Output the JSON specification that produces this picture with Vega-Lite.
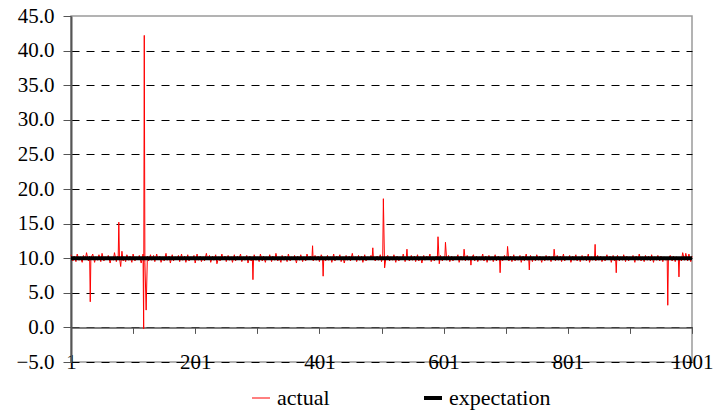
{
  "$schema": "https://vega.github.io/schema/vega-lite/v6.json",
  "width": 621,
  "height": 346,
  "autosize": "none",
  "padding": {"left": 71, "top": 16, "right": 25, "bottom": 53},
  "background": "white",
  "config": {
    "view": {"stroke": "#9a9a9a", "strokeWidth": 1.5},
    "style": {"guide-label": {"font": "Liberation Serif"}}
  },
  "encoding": {
    "x": {
      "field": "x",
      "type": "quantitative",
      "scale": {"domain": [1, 1001], "nice": false, "zero": false},
      "axis": {
        "title": null,
        "grid": false,
        "values": [1, 101, 201, 301, 401, 501, 601, 701, 801, 901, 1001],
        "format": "d",
        "labelExpr": "(datum.value - 1) % 200 == 0 ? datum.label : ''",
        "labelFlush": false,
        "labelOverlap": false,
        "labelFont": "Liberation Serif",
        "labelFontSize": 21,
        "labelColor": "black",
        "offset": -34.6,
        "tickSize": 6,
        "tickColor": "#555",
        "domainColor": "#555",
        "domainWidth": 1.5,
        "labelBaseline": "middle",
        "labelPadding": 28.6,
        "encode": {"labels": {"update": {"font": {"value": "Liberation Serif"}}}}
      }
    },
    "y": {
      "field": "y",
      "type": "quantitative",
      "scale": {"domain": [-5, 45], "nice": false, "zero": false},
      "axis": {
        "title": null,
        "values": [-5, 0, 5, 10, 15, 20, 25, 30, 35, 40, 45],
        "format": ".1f",
        "labelFont": "Liberation Serif",
        "labelFontSize": 21,
        "labelColor": "black",
        "grid": true,
        "gridColor": "black",
        "gridDash": [8, 7],
        "gridOpacity": {"condition": {"test": "datum.value == 45", "value": 0}, "value": 1},
        "tickSize": 8,
        "tickColor": "#555",
        "domainColor": "#555",
        "domainWidth": 2,
        "labelPadding": 9,
        "encode": {"labels": {"update": {"font": {"value": "Liberation Serif"}}}}
      }
    },
    "color": {
      "field": "s",
      "type": "nominal",
      "scale": {"domain": ["actual", "expectation"], "range": ["#ff0000", "#000000"]},
      "legend": {
        "title": null,
        "orient": "none",
        "legendX": 179,
        "legendY": 371,
        "direction": "horizontal",
        "symbolType": "stroke",
        "symbolSize": 324,
        "columnPadding": 86,
        "labelOffset": 5,
        "labelFont": "Liberation Serif",
        "labelFontSize": 22,
        "labelColor": "black",
        "encode": {"labels": {"update": {"font": {"value": "Liberation Serif"}}}}
      }
    },
    "strokeWidth": {
      "field": "s",
      "type": "nominal",
      "scale": {"type": "ordinal", "domain": ["actual", "expectation"], "range": [1, 4]},
      "legend": {
        "title": null,
        "orient": "none",
        "legendX": 179,
        "legendY": 371,
        "direction": "horizontal",
        "symbolType": "stroke",
        "symbolSize": 324,
        "columnPadding": 86,
        "labelOffset": 5,
        "labelFont": "Liberation Serif",
        "labelFontSize": 22,
        "labelColor": "black",
        "encode": {"labels": {"update": {"font": {"value": "Liberation Serif"}}}}
      }
    }
  },
  "layer": [
    {
      "data": {"values": [
        {"x":1,"actual":10.5},{"x":4,"actual":9.6},{"x":6,"actual":10.3},{"x":9,"actual":9.5},{"x":11,"actual":10.6},{"x":14,"actual":9.7},{"x":16,"actual":10.2},{"x":19,"actual":9.4},{"x":21,"actual":10.4},{"x":24,"actual":9.8},{"x":26,"actual":10.8},{"x":29,"actual":9.6},{"x":31,"actual":10.3},{"x":32,"actual":3.7},{"x":33,"actual":10.0},{"x":36,"actual":10.6},{"x":39,"actual":9.4},{"x":41,"actual":10.2},{"x":44,"actual":9.7},{"x":46,"actual":10.5},{"x":49,"actual":9.5},{"x":51,"actual":10.7},{"x":54,"actual":9.6},{"x":56,"actual":10.2},{"x":59,"actual":9.8},{"x":61,"actual":10.4},{"x":64,"actual":9.3},{"x":66,"actual":10.1},{"x":69,"actual":9.7},{"x":71,"actual":10.8},{"x":74,"actual":9.5},{"x":76,"actual":10.3},{"x":77,"actual":10.2},{"x":78,"actual":15.2},{"x":79,"actual":10.1},{"x":81,"actual":8.8},{"x":83,"actual":11.0},{"x":85,"actual":9.6},{"x":86,"actual":10.2},{"x":89,"actual":9.5},{"x":91,"actual":10.5},{"x":94,"actual":9.7},{"x":96,"actual":10.3},{"x":99,"actual":9.4},{"x":101,"actual":10.6},{"x":104,"actual":9.6},{"x":106,"actual":10.2},{"x":109,"actual":9.8},{"x":111,"actual":10.4},{"x":114,"actual":9.3},{"x":116,"actual":10.1},{"x":117,"actual":10.6},{"x":118,"actual":-0.2},{"x":119,"actual":42.2},{"x":120,"actual":9.4},{"x":122,"actual":2.5},{"x":124,"actual":10.3},{"x":126,"actual":9.6},{"x":129,"actual":10.5},{"x":131,"actual":9.7},{"x":134,"actual":10.4},{"x":136,"actual":9.5},{"x":139,"actual":10.6},{"x":141,"actual":9.8},{"x":144,"actual":10.3},{"x":146,"actual":9.4},{"x":149,"actual":10.2},{"x":151,"actual":9.6},{"x":154,"actual":10.7},{"x":156,"actual":9.7},{"x":159,"actual":10.3},{"x":161,"actual":9.3},{"x":164,"actual":10.5},{"x":166,"actual":9.6},{"x":169,"actual":10.2},{"x":171,"actual":9.8},{"x":174,"actual":10.4},{"x":176,"actual":9.5},{"x":179,"actual":10.6},{"x":181,"actual":9.7},{"x":184,"actual":10.3},{"x":186,"actual":9.4},{"x":189,"actual":10.5},{"x":191,"actual":9.6},{"x":194,"actual":10.2},{"x":196,"actual":9.8},{"x":199,"actual":10.4},{"x":201,"actual":9.3},{"x":204,"actual":10.6},{"x":206,"actual":9.7},{"x":209,"actual":10.3},{"x":211,"actual":9.5},{"x":214,"actual":10.2},{"x":216,"actual":9.6},{"x":219,"actual":10.7},{"x":221,"actual":9.8},{"x":224,"actual":10.4},{"x":226,"actual":9.4},{"x":229,"actual":10.3},{"x":231,"actual":9.7},{"x":234,"actual":10.5},{"x":236,"actual":9.2},{"x":239,"actual":10.2},{"x":241,"actual":9.6},{"x":244,"actual":10.6},{"x":246,"actual":9.8},{"x":249,"actual":10.3},{"x":251,"actual":9.5},{"x":254,"actual":10.4},{"x":256,"actual":9.7},{"x":259,"actual":10.2},{"x":261,"actual":9.4},{"x":264,"actual":10.5},{"x":266,"actual":9.6},{"x":269,"actual":10.3},{"x":271,"actual":9.8},{"x":274,"actual":10.6},{"x":276,"actual":9.5},{"x":279,"actual":10.2},{"x":281,"actual":9.7},{"x":284,"actual":10.4},{"x":286,"actual":9.3},{"x":289,"actual":10.3},{"x":291,"actual":9.6},{"x":293,"actual":10.1},{"x":294,"actual":6.9},{"x":295,"actual":10.0},{"x":296,"actual":10.5},{"x":299,"actual":9.7},{"x":301,"actual":10.2},{"x":304,"actual":9.5},{"x":306,"actual":10.6},{"x":309,"actual":9.6},{"x":311,"actual":10.3},{"x":314,"actual":9.4},{"x":316,"actual":10.2},{"x":319,"actual":9.8},{"x":321,"actual":10.5},{"x":324,"actual":9.5},{"x":326,"actual":10.3},{"x":329,"actual":9.7},{"x":331,"actual":10.7},{"x":334,"actual":9.6},{"x":336,"actual":10.2},{"x":339,"actual":9.4},{"x":341,"actual":10.4},{"x":344,"actual":9.7},{"x":346,"actual":10.3},{"x":349,"actual":9.5},{"x":351,"actual":10.6},{"x":354,"actual":9.6},{"x":356,"actual":10.2},{"x":359,"actual":9.8},{"x":361,"actual":10.4},{"x":364,"actual":9.3},{"x":366,"actual":10.3},{"x":369,"actual":9.7},{"x":371,"actual":10.5},{"x":374,"actual":9.5},{"x":376,"actual":10.2},{"x":379,"actual":9.6},{"x":381,"actual":10.6},{"x":384,"actual":9.8},{"x":386,"actual":10.3},{"x":389,"actual":10.0},{"x":390,"actual":11.8},{"x":391,"actual":9.6},{"x":394,"actual":10.4},{"x":396,"actual":9.7},{"x":399,"actual":10.3},{"x":401,"actual":9.5},{"x":404,"actual":10.5},{"x":406,"actual":10.1},{"x":407,"actual":7.4},{"x":408,"actual":10.0},{"x":411,"actual":9.6},{"x":414,"actual":10.4},{"x":416,"actual":9.7},{"x":419,"actual":10.2},{"x":421,"actual":9.4},{"x":424,"actual":10.6},{"x":426,"actual":9.6},{"x":429,"actual":10.3},{"x":431,"actual":9.8},{"x":434,"actual":10.5},{"x":436,"actual":9.5},{"x":439,"actual":10.2},{"x":441,"actual":9.3},{"x":444,"actual":10.4},{"x":446,"actual":9.7},{"x":449,"actual":10.3},{"x":451,"actual":9.6},{"x":454,"actual":10.7},{"x":456,"actual":9.8},{"x":459,"actual":10.2},{"x":461,"actual":9.5},{"x":464,"actual":10.4},{"x":466,"actual":9.7},{"x":469,"actual":10.3},{"x":471,"actual":9.4},{"x":474,"actual":10.5},{"x":476,"actual":9.6},{"x":479,"actual":10.2},{"x":481,"actual":9.8},{"x":484,"actual":10.4},{"x":486,"actual":10.1},{"x":487,"actual":11.5},{"x":488,"actual":10.0},{"x":491,"actual":9.6},{"x":494,"actual":10.3},{"x":496,"actual":9.7},{"x":499,"actual":10.5},{"x":501,"actual":9.5},{"x":503,"actual":10.1},{"x":504,"actual":18.6},{"x":506,"actual":8.6},{"x":508,"actual":10.0},{"x":511,"actual":10.4},{"x":514,"actual":9.6},{"x":516,"actual":10.2},{"x":519,"actual":9.7},{"x":521,"actual":10.5},{"x":524,"actual":9.4},{"x":526,"actual":10.3},{"x":529,"actual":9.6},{"x":531,"actual":10.2},{"x":534,"actual":9.8},{"x":536,"actual":10.6},{"x":539,"actual":9.5},{"x":541,"actual":10.2},{"x":542,"actual":11.3},{"x":543,"actual":10.0},{"x":546,"actual":9.6},{"x":549,"actual":10.4},{"x":551,"actual":9.7},{"x":554,"actual":10.3},{"x":556,"actual":9.5},{"x":559,"actual":10.5},{"x":561,"actual":9.6},{"x":564,"actual":10.2},{"x":566,"actual":9.3},{"x":569,"actual":10.4},{"x":571,"actual":9.7},{"x":574,"actual":10.3},{"x":576,"actual":9.8},{"x":579,"actual":10.6},{"x":581,"actual":9.5},{"x":584,"actual":10.2},{"x":586,"actual":9.6},{"x":589,"actual":10.3},{"x":591,"actual":10.1},{"x":592,"actual":13.1},{"x":594,"actual":9.2},{"x":596,"actual":10.4},{"x":599,"actual":9.6},{"x":601,"actual":10.2},{"x":603,"actual":10.1},{"x":604,"actual":12.3},{"x":606,"actual":9.7},{"x":609,"actual":10.4},{"x":611,"actual":9.5},{"x":614,"actual":10.3},{"x":616,"actual":9.6},{"x":619,"actual":10.2},{"x":621,"actual":9.8},{"x":624,"actual":10.5},{"x":626,"actual":9.4},{"x":629,"actual":10.3},{"x":631,"actual":9.7},{"x":633,"actual":10.0},{"x":634,"actual":11.3},{"x":636,"actual":9.6},{"x":639,"actual":10.4},{"x":641,"actual":9.7},{"x":644,"actual":10.1},{"x":645,"actual":9.0},{"x":646,"actual":10.0},{"x":649,"actual":10.5},{"x":651,"actual":9.6},{"x":654,"actual":10.3},{"x":656,"actual":9.5},{"x":659,"actual":10.2},{"x":661,"actual":9.7},{"x":664,"actual":10.6},{"x":666,"actual":9.6},{"x":669,"actual":10.3},{"x":671,"actual":9.4},{"x":674,"actual":10.4},{"x":676,"actual":9.7},{"x":679,"actual":10.2},{"x":681,"actual":9.5},{"x":684,"actual":10.5},{"x":686,"actual":9.6},{"x":689,"actual":10.3},{"x":691,"actual":10.1},{"x":692,"actual":7.9},{"x":693,"actual":10.0},{"x":696,"actual":9.6},{"x":699,"actual":10.4},{"x":701,"actual":9.8},{"x":703,"actual":10.1},{"x":704,"actual":11.7},{"x":706,"actual":9.6},{"x":709,"actual":10.3},{"x":711,"actual":9.5},{"x":714,"actual":10.5},{"x":716,"actual":9.6},{"x":719,"actual":10.2},{"x":721,"actual":9.7},{"x":724,"actual":10.4},{"x":726,"actual":9.4},{"x":729,"actual":10.3},{"x":731,"actual":9.6},{"x":734,"actual":10.6},{"x":736,"actual":9.7},{"x":738,"actual":10.0},{"x":739,"actual":8.3},{"x":740,"actual":10.1},{"x":741,"actual":10.4},{"x":744,"actual":9.5},{"x":746,"actual":10.2},{"x":749,"actual":9.6},{"x":751,"actual":10.5},{"x":754,"actual":9.7},{"x":756,"actual":10.3},{"x":759,"actual":9.4},{"x":761,"actual":10.2},{"x":764,"actual":9.6},{"x":766,"actual":10.4},{"x":769,"actual":9.7},{"x":771,"actual":10.3},{"x":774,"actual":9.5},{"x":776,"actual":10.2},{"x":778,"actual":10.0},{"x":779,"actual":11.3},{"x":781,"actual":9.6},{"x":784,"actual":10.4},{"x":786,"actual":9.7},{"x":789,"actual":10.3},{"x":791,"actual":9.5},{"x":794,"actual":10.6},{"x":796,"actual":9.6},{"x":799,"actual":10.2},{"x":801,"actual":9.8},{"x":804,"actual":10.4},{"x":806,"actual":9.4},{"x":809,"actual":10.3},{"x":811,"actual":9.7},{"x":814,"actual":10.5},{"x":816,"actual":9.6},{"x":819,"actual":10.2},{"x":821,"actual":9.5},{"x":824,"actual":10.4},{"x":826,"actual":9.7},{"x":829,"actual":10.3},{"x":831,"actual":9.6},{"x":834,"actual":10.6},{"x":836,"actual":9.4},{"x":839,"actual":10.2},{"x":841,"actual":9.7},{"x":844,"actual":10.0},{"x":845,"actual":12.0},{"x":846,"actual":9.6},{"x":849,"actual":10.4},{"x":851,"actual":9.7},{"x":854,"actual":10.3},{"x":856,"actual":9.5},{"x":859,"actual":10.2},{"x":861,"actual":9.6},{"x":864,"actual":10.5},{"x":866,"actual":9.8},{"x":869,"actual":10.3},{"x":871,"actual":9.4},{"x":874,"actual":10.4},{"x":876,"actual":9.6},{"x":878,"actual":10.0},{"x":879,"actual":7.9},{"x":880,"actual":10.1},{"x":881,"actual":10.4},{"x":884,"actual":9.6},{"x":886,"actual":10.2},{"x":889,"actual":9.7},{"x":891,"actual":10.5},{"x":894,"actual":9.5},{"x":896,"actual":10.3},{"x":899,"actual":9.6},{"x":901,"actual":10.2},{"x":904,"actual":9.8},{"x":906,"actual":10.4},{"x":909,"actual":9.4},{"x":911,"actual":10.3},{"x":914,"actual":9.7},{"x":916,"actual":10.6},{"x":919,"actual":9.6},{"x":921,"actual":10.2},{"x":924,"actual":9.5},{"x":926,"actual":10.4},{"x":929,"actual":9.7},{"x":931,"actual":10.3},{"x":934,"actual":9.6},{"x":936,"actual":10.5},{"x":939,"actual":9.4},{"x":941,"actual":10.2},{"x":944,"actual":9.7},{"x":946,"actual":10.4},{"x":949,"actual":9.6},{"x":951,"actual":10.3},{"x":954,"actual":9.5},{"x":956,"actual":10.2},{"x":959,"actual":9.7},{"x":961,"actual":10.1},{"x":962,"actual":3.2},{"x":963,"actual":10.0},{"x":966,"actual":10.4},{"x":969,"actual":9.6},{"x":971,"actual":10.3},{"x":974,"actual":9.5},{"x":976,"actual":10.2},{"x":979,"actual":10.0},{"x":980,"actual":7.3},{"x":981,"actual":10.1},{"x":984,"actual":9.6},{"x":986,"actual":10.8},{"x":989,"actual":9.7},{"x":991,"actual":10.7},{"x":994,"actual":9.6},{"x":996,"actual":10.6},{"x":999,"actual":9.5},{"x":1001,"actual":10.3}
      ]},
      "transform": [{"fold": ["actual"], "as": ["s", "y"]}],
      "mark": {"type": "line", "strokeJoin": "miter", "strokeMiterLimit": 30}
    },
    {
      "data": {"values": [{"x": 1, "expectation": 10}, {"x": 1001, "expectation": 10}]},
      "transform": [{"fold": ["expectation"], "as": ["s", "y"]}],
      "mark": {"type": "line"}
    }
  ]
}
